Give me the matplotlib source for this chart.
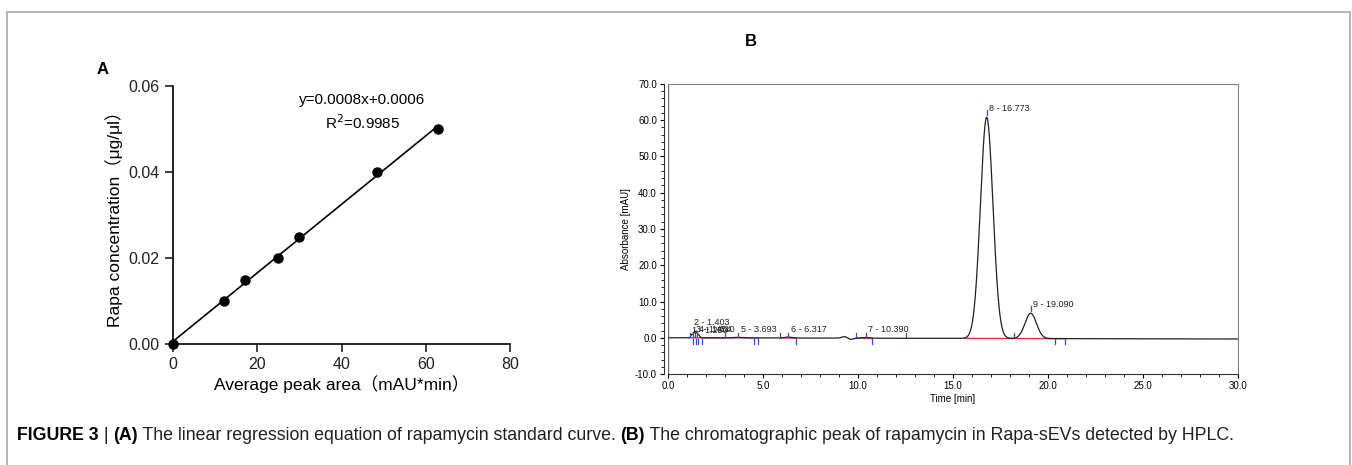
import numpy as np
import matplotlib.pyplot as plt
from matplotlib.lines import Line2D
from matplotlib.ticker import MultipleLocator

plt.rcParams['font.family'] = ['Liberation Sans', 'Noto Sans CJK SC', 'DejaVu Sans']

# ---- panel A data: standard curve
peak_area = [0, 12, 17, 25, 30, 48.5, 63]
concentration = [0, 0.010, 0.015, 0.020, 0.025, 0.040, 0.050]
equation = "y=0.0008x+0.0006"
r_squared = "R$^2$=0.9985"

# ---- panel B data: chromatogram peaks (retention time, height, width)
peak_rt = [1.25, 1.403, 1.50, 1.61, 3.693, 6.317, 9.30, 9.60, 10.390, 16.773, 19.090]
peak_height = [0.9, 1.6, 1.0, 0.8, 0.15, 0.25, 0.45, -0.35, 0.2, 61.0, 7.0]
peak_width = [0.05, 0.06, 0.05, 0.06, 0.25, 0.2, 0.15, 0.15, 0.2, 0.33, 0.30]
baseline_drift = [0.0, -0.35]  # mAU at 0 and 30 min

peak_labels = ["1 - 1.250", "2 - 1.403", "3 - 1.454", "4 - 1.610", "5 - 3.693",
               "6 - 6.317", "7 - 10.390", "8 - 16.773", "9 - 19.090"]
label_x = [1.25, 1.35, 1.50, 1.65, 3.85, 6.45, 10.55, 16.9, 19.2]
label_y = [0.8, 3.0, 1.0, 1.0, 1.0, 1.0, 1.0, 62.0, 7.8]

marks_up = [1.15, 1.30, 1.40, 1.55, 3.0, 3.7, 5.9, 6.3, 9.9, 10.4, 12.5, 18.2]
marks_down = [1.32, 1.48, 1.60, 1.78, 4.5, 4.75, 6.75, 10.75, 20.35, 20.9]
apex_marks = [(16.773, 61.5), (19.090, 7.4)]
baseline_segments = [(1.15, 3.0, '#e0304a'), (3.0, 4.75, '#d040a0'),
                     (5.9, 6.75, '#e0304a'), (9.9, 10.75, '#e0304a'),
                     (15.6, 20.9, '#e0304a')]

fig = plt.figure(figsize=(13.52, 4.65), dpi=100)

# outer frame (open at the bottom)
W, H = 1352, 465
fig.add_artist(Line2D([7 / W, 7 / W], [0, 1 - 12 / H], color='#b0b0b0', lw=1.3))
fig.add_artist(Line2D([1350 / W, 1350 / W], [0, 1 - 12 / H], color='#b0b0b0', lw=1.3))
fig.add_artist(Line2D([7 / W, 1350 / W], [1 - 12 / H, 1 - 12 / H], color='#b0b0b0', lw=1.3))

# ---------------- panel A
axA = fig.add_axes([173 / W, 1 - 344 / H, (510 - 173) / W, (344 - 86) / H])
coef = np.polyfit(peak_area, concentration, 1)
xs = np.array([0, max(peak_area)])
axA.plot(xs, np.polyval(coef, xs), color='black', lw=1.2)
axA.plot(peak_area, concentration, 'o', color='black', ms=6.5, clip_on=False)
axA.set_xlim(0, 80)
axA.set_ylim(0, 0.06)
axA.set_xticks([0, 20, 40, 60, 80])
axA.set_yticks([0, 0.02, 0.04, 0.06])
axA.set_yticklabels(['0.00', '0.02', '0.04', '0.06'])
for s in ['top', 'right']:
    axA.spines[s].set_visible(False)
for s in ['left', 'bottom']:
    axA.spines[s].set_linewidth(1.2)
axA.tick_params(direction='out', length=6, width=1.2, labelsize=11.5, colors='#202020')
axA.set_xlabel('Average peak area（mAU*min）', fontsize=12.5, labelpad=2)
axA.set_ylabel('Rapa concentration（μg/μl）', fontsize=12.5, labelpad=4)
axA.text(45, 0.0567, equation, fontsize=11, ha='center', va='center')
axA.text(45, 0.0515, r_squared, fontsize=11, ha='center', va='center')
fig.text(103 / W, 1 - 70 / H, 'A', fontsize=12, fontweight='bold', ha='center', va='center')

# ---------------- panel B
axB = fig.add_axes([668 / W, 1 - 374 / H, (1238 - 668) / W, (374 - 84) / H])
t = np.linspace(0, 30, 3001)
signal = baseline_drift[0] + (baseline_drift[1] - baseline_drift[0]) * t / 30
for rt, h, w in zip(peak_rt, peak_height, peak_width):
    signal = signal + h * np.exp(-0.5 * ((t - rt) / w) ** 2)
axB.plot(t, signal, color='#202020', lw=0.9, zorder=3)

for x0, x1, c in baseline_segments:
    y0 = np.interp(x0, [0, 30], baseline_drift)
    y1 = np.interp(x1, [0, 30], baseline_drift)
    axB.plot([x0, x1], [y0, y1], color=c, lw=1.0, zorder=2)
for m in marks_up:
    axB.plot([m, m], [0.1, 1.4], color='#3050c0', lw=0.9, zorder=4)
for m in marks_down:
    axB.plot([m, m], [-0.3, -1.8], color='#3050c0', lw=0.9, zorder=4)
for mx, my in apex_marks:
    axB.plot([mx, mx], [my, my + 1.3], color='#3050c0', lw=0.9, zorder=4)
for lab, lx, ly in zip(peak_labels, label_x, label_y):
    axB.text(lx, ly, lab, fontsize=6.5, color='#202020', ha='left', va='bottom')

axB.set_xlim(0, 30)
axB.set_ylim(-10, 70)
axB.xaxis.set_major_locator(MultipleLocator(5))
axB.xaxis.set_minor_locator(MultipleLocator(1))
axB.yaxis.set_major_locator(MultipleLocator(10))
axB.yaxis.set_minor_locator(MultipleLocator(2))
axB.xaxis.set_major_formatter(lambda v, p: f'{v:.1f}')
axB.yaxis.set_major_formatter(lambda v, p: f'{v:.1f}')
axB.spines['left'].set_position(('outward', 3))
axB.axvline(0, color='#707070', lw=1.0)
for s in ['top', 'right']:
    axB.spines[s].set_color('#808080')
for s in ['left', 'bottom']:
    axB.spines[s].set_color('#303030')
axB.tick_params(which='major', direction='out', length=3, width=0.8, labelsize=7, pad=2)
axB.tick_params(which='minor', direction='out', length=2, width=0.6)
axB.set_xlabel('Time [min]', fontsize=7, labelpad=2)
axB.set_ylabel('Absorbance [mAU]', fontsize=7, labelpad=3)
fig.text(751 / W, 1 - 42 / H, 'B', fontsize=12, fontweight='bold', ha='center', va='center')

# ---------------- caption
parts = [("FIGURE 3", 'bold'), (" | ", 'normal'), ("(A)", 'bold'),
         (" The linear regression equation of rapamycin standard curve. ", 'normal'),
         ("(B)", 'bold'),
         (" The chromatographic peak of rapamycin in Rapa-sEVs detected by HPLC.", 'normal')]
fig.canvas.draw()
renderer = fig.canvas.get_renderer()
x = 17 / W
for txt, wt in parts:
    tt = fig.text(x, 1 - 435 / H, txt, fontsize=12.8, fontweight=wt, ha='left', va='center',
                  color='#202020' if wt == 'normal' else 'black')
    bb = tt.get_window_extent(renderer)
    x += bb.width / W

fig.savefig('out.png', dpi=100)
